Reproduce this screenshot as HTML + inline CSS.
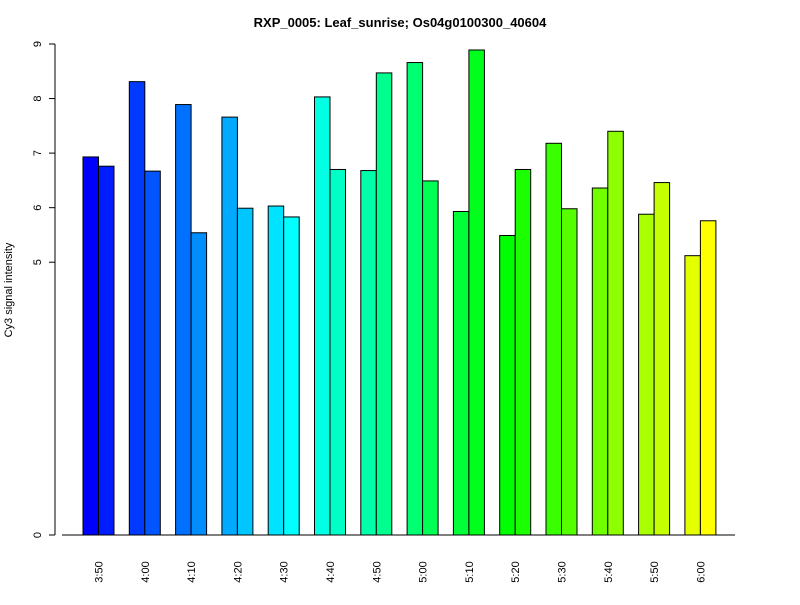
<!DOCTYPE html>
<html><head><meta charset="utf-8"><style>
body{margin:0;background:#fff}
svg text{font-family:"Liberation Sans",Arial,sans-serif}
</style></head><body>
<svg id="chart" width="800" height="600" xmlns="http://www.w3.org/2000/svg">
<rect width="800" height="600" fill="#fff"/>
<text x="400" y="27" text-anchor="middle" font-size="13" font-weight="bold">RXP_0005: Leaf_sunrise; Os04g0100300_40604</text>
<text transform="translate(12,290) rotate(-90)" text-anchor="middle" font-size="11">Cy3 signal intensity</text>
<g id="bars"></g><g id="axes"></g>
</svg>
<script>
const categories=["3:50","4:00","4:10","4:20","4:30","4:40","4:50","5:00","5:10","5:20","5:30","5:40","5:50","6:00"];
const series1=[6.93,8.31,7.89,7.66,6.03,8.03,6.68,8.66,5.93,5.49,7.18,6.36,5.88,5.12];
const series2=[6.76,6.67,5.54,5.99,5.83,6.70,8.47,6.49,8.89,6.70,5.98,7.40,6.46,5.76];
const yTicks=[0,5,6,7,8,9];
const NS="http://www.w3.org/2000/svg";
const y0=535,yPer=(535-44)/9;
function yS(v){return y0-v*yPer;}
function xS(i){return 83+i*46.3;}
const bw=15.5;
const bars=document.getElementById('bars'),axes=document.getElementById('axes');
const total=categories.length*2;
function mk(t,a,p){const e=document.createElementNS(NS,t);for(const k in a)e.setAttribute(k,a[k]);p.appendChild(e);return e;}
categories.forEach((c,i)=>{
  [series1[i],series2[i]].forEach((v,j)=>{
    const k=i*2+j;const hue=240-180*k/(total-1);
    const r=mk('rect',{x:xS(i)+j*bw,y:yS(v),width:bw,height:y0-yS(v),fill:`hsl(${hue},100%,50%)`,stroke:'#000','stroke-width':1},bars);
    
    
  });
  const t=mk('text',{transform:`translate(${xS(i)+bw+4},572) rotate(-90)`,'text-anchor':'middle','font-size':11},axes);
  t.textContent=c;
  
  
});
mk('line',{x1:62,x2:735,y1:y0,y2:y0,stroke:'#000'},axes);
mk('line',{x1:55,x2:55,y1:yS(0),y2:yS(9),stroke:'#000'},axes);
yTicks.forEach(v=>{
  mk('line',{x1:49,x2:55,y1:yS(v),y2:yS(v),stroke:'#000'},axes);
  const t=mk('text',{transform:`translate(41,${yS(v)}) rotate(-90)`,'text-anchor':'middle','font-size':11},axes);
  t.textContent=v;
  
  
});
</script>
</body></html>
